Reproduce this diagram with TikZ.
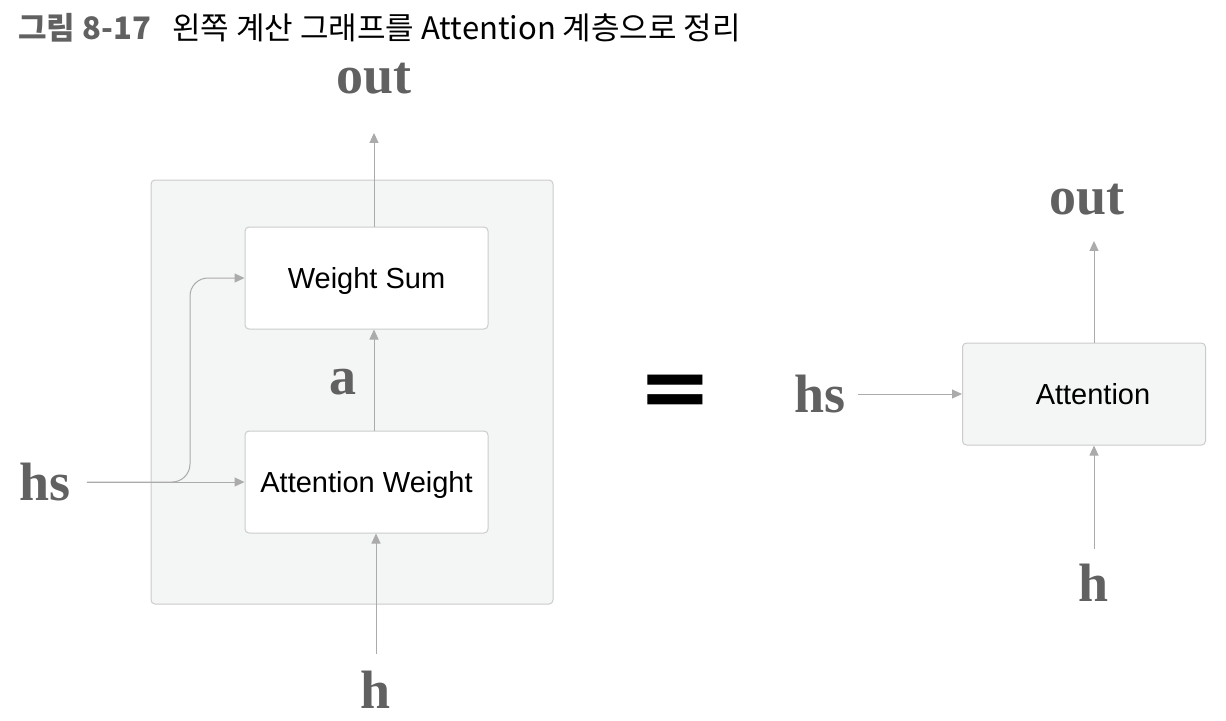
\documentclass[tikz,border=0pt]{standalone}
\usepackage{fontspec}
\setmainfont{Liberation Sans}
\newfontfamily\krfont{Noto Sans CJK KR}
\newfontfamily\lblfont{Liberation Serif}
\newfontfamily\eqfont{DejaVu Sans}
\usepackage{tikz}
\usetikzlibrary{
	arrows.meta,
	positioning
}

\definecolor{lblgray}{HTML}{616161}
\definecolor{linegray}{HTML}{ABABAB}
\definecolor{boxline}{HTML}{CBCBCB}
\definecolor{panel}{HTML}{F4F5F5}

\tikzset{
	lbl/.style={font=\lblfont\bfseries\fontsize{27}{27}\selectfont, text=lblgray, inner sep=0pt},
	layer/.style={draw=boxline, fill=white, rounded corners=2pt, line width=0.5pt,
		minimum width=121.5pt, minimum height=51pt, text height=10.4pt, text depth=0pt,
		font=\fontsize{14.5}{14.5}\selectfont},
	group/.style={draw=boxline, fill=panel, rounded corners=2pt, line width=0.5pt},
	conn/.style={draw=linegray, line width=0.5pt, -{Triangle[length=5pt, width=4.5pt]}}
}

\begin{document}
\begin{tikzpicture}[x=0.5pt, y=-0.5pt]
	\useasboundingbox (0, 0) rectangle (1226, 720) ;

	% title
	\node[anchor=west, inner sep=0pt, text=lblgray, font=\krfont\bfseries\fontsize{15.5}{15.5}\selectfont] (fignum) at (18, 28) {그림 8-17} ;
	\node[anchor=west, inner sep=0pt, font=\krfont\fontsize{15.5}{15.5}\selectfont] (title) at (172, 28) {왼쪽 계산 그래프를 Attention 계층으로 정리} ;

	% left: computation graph
	\node[group, minimum width=201pt, minimum height=212pt] (grp) at (352, 392) {} ;
	\node[layer] (ws) at (366.5, 278) {Weight Sum} ;
	\node[layer] (aw) at (366.5, 482) {Attention Weight} ;
	\node[lbl] (outL) at (374, 79) {out} ;
	\node[lbl] (a) at (343, 382) {a} ;
	\node[lbl] (hL) at (376, 690) {h} ;
	\node[lbl] (hsL) at (45, 482) {hs} ;
	\coordinate (bend) at (190, 482) ;

	\draw[conn, shorten >=19pt] (outL.south |- ws.north) -- (outL.south) ;
	\draw[conn] (outL.south |- aw.north) -- (outL.south |- ws.south) ;
	\draw[conn, shorten <=8.5pt] (hL.north) -- (hL.north |- aw.south) ;
	\draw[conn, shorten <=8pt] (hsL.east) -- (aw.west) ;
	\draw[conn, shorten <=8pt, rounded corners=9pt] (hsL.east) -- (bend) |- (ws.west) ;

	% equals
	\node[inner sep=0pt, font=\eqfont\bfseries\fontsize{44}{44}\selectfont] (eq) at (675, 396) {=} ;

	% right: Attention layer
	\node[layer, fill=panel] (att) at (1084, 394) {\hspace{9pt}Attention} ;
	\node[lbl] (outR) at (1087, 200) {out} ;
	\node[lbl] (hsR) at (820, 394) {hs} ;
	\node[lbl] (hR) at (1094, 583) {h} ;

	\draw[conn, shorten >=12.5pt] (hR.north |- att.north) -- (hR.north |- outR.south) ;
	\draw[conn, shorten <=7.5pt] (hR.north) -- (hR.north |- att.south) ;
	\draw[conn, shorten <=6pt] (hsR.east) -- (att.west) ;
\end{tikzpicture}
\end{document}
